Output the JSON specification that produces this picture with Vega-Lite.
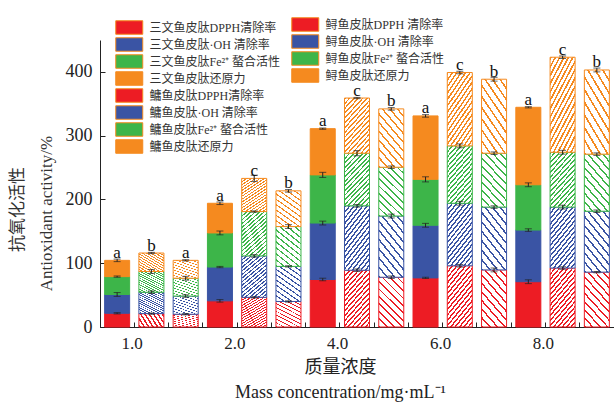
{
  "$schema": "https://vega.github.io/schema/vega-lite/v6.json",
  "width": 514,
  "height": 287,
  "autosize": {"type": "none"},
  "padding": {"left": 100, "top": 40, "right": 0, "bottom": 75},
  "background": "white",
  "title": {"text": "抗氧化活性", "orient": "left", "anchor": "middle", "frame": "group", "offset": 10, "dx": -26, "font": "Liberation Serif, Noto Sans CJK SC", "fontSize": 17, "fontWeight": "normal", "color": "#333"},
  "config": {
    "view": {"stroke": null},
    "axis": {"grid": false, "domainColor": "#222", "tickColor": "#222", "labelColor": "#222", "titleColor": "#333", "titleFontWeight": "normal"}
  },
  "data": {"values": [
    {"bar": "1.0 三文鱼", "fish": "三文鱼", "k": 0, "series": "三文鱼皮肽DPPH清除率", "value": 21.5, "err": 1},
    {"bar": "1.0 三文鱼", "fish": "三文鱼", "k": 1, "series": "三文鱼皮肽·OH 清除率", "value": 29.5, "err": 3},
    {"bar": "1.0 三文鱼", "fish": "三文鱼", "k": 2, "series": "三文鱼皮肽Fe²⁺ 螯合活性", "value": 28, "err": 1},
    {"bar": "1.0 三文鱼", "fish": "三文鱼", "k": 3, "series": "三文鱼皮肽还原力", "value": 25.5, "err": 2, "sig": "a"},
    {"bar": "1.0 鲟鱼", "fish": "鲟鱼", "k": 0, "series": "鲟鱼皮肽DPPH 清除率", "value": 21, "err": 1},
    {"bar": "1.0 鲟鱼", "fish": "鲟鱼", "k": 1, "series": "鲟鱼皮肽·OH 清除率", "value": 33.5, "err": 2},
    {"bar": "1.0 鲟鱼", "fish": "鲟鱼", "k": 2, "series": "鲟鱼皮肽Fe²⁺ 螯合活性", "value": 32.5, "err": 3},
    {"bar": "1.0 鲟鱼", "fish": "鲟鱼", "k": 3, "series": "鲟鱼皮肽还原力", "value": 29, "err": 1, "sig": "b"},
    {"bar": "1.0 鳙鱼", "fish": "鳙鱼", "k": 0, "series": "鳙鱼皮肽DPPH清除率", "value": 20, "err": 1},
    {"bar": "1.0 鳙鱼", "fish": "鳙鱼", "k": 1, "series": "鳙鱼皮肽·OH 清除率", "value": 28.5, "err": 2},
    {"bar": "1.0 鳙鱼", "fish": "鳙鱼", "k": 2, "series": "鳙鱼皮肽Fe²⁺ 螯合活性", "value": 28, "err": 3},
    {"bar": "1.0 鳙鱼", "fish": "鳙鱼", "k": 3, "series": "鳙鱼皮肽还原力", "value": 28, "err": 1, "sig": "a"},
    {"bar": "2.0 三文鱼", "fish": "三文鱼", "k": 0, "series": "三文鱼皮肽DPPH清除率", "value": 41, "err": 2},
    {"bar": "2.0 三文鱼", "fish": "三文鱼", "k": 1, "series": "三文鱼皮肽·OH 清除率", "value": 53, "err": 1},
    {"bar": "2.0 三文鱼", "fish": "三文鱼", "k": 2, "series": "三文鱼皮肽Fe²⁺ 螯合活性", "value": 53.5, "err": 3},
    {"bar": "2.0 三文鱼", "fish": "三文鱼", "k": 3, "series": "三文鱼皮肽还原力", "value": 46.5, "err": 2, "sig": "a"},
    {"bar": "2.0 鲟鱼", "fish": "鲟鱼", "k": 0, "series": "鲟鱼皮肽DPPH 清除率", "value": 46.5, "err": 1},
    {"bar": "2.0 鲟鱼", "fish": "鲟鱼", "k": 1, "series": "鲟鱼皮肽·OH 清除率", "value": 65, "err": 2},
    {"bar": "2.0 鲟鱼", "fish": "鲟鱼", "k": 2, "series": "鲟鱼皮肽Fe²⁺ 螯合活性", "value": 69.5, "err": 1},
    {"bar": "2.0 鲟鱼", "fish": "鲟鱼", "k": 3, "series": "鲟鱼皮肽还原力", "value": 52, "err": 5, "sig": "c"},
    {"bar": "2.0 鳙鱼", "fish": "鳙鱼", "k": 0, "series": "鳙鱼皮肽DPPH清除率", "value": 40, "err": 1},
    {"bar": "2.0 鳙鱼", "fish": "鳙鱼", "k": 1, "series": "鳙鱼皮肽·OH 清除率", "value": 55, "err": 1},
    {"bar": "2.0 鳙鱼", "fish": "鳙鱼", "k": 2, "series": "鳙鱼皮肽Fe²⁺ 螯合活性", "value": 62.5, "err": 3},
    {"bar": "2.0 鳙鱼", "fish": "鳙鱼", "k": 3, "series": "鳙鱼皮肽还原力", "value": 56, "err": 2, "sig": "b"},
    {"bar": "4.0 三文鱼", "fish": "三文鱼", "k": 0, "series": "三文鱼皮肽DPPH清除率", "value": 74.5, "err": 2},
    {"bar": "4.0 三文鱼", "fish": "三文鱼", "k": 1, "series": "三文鱼皮肽·OH 清除率", "value": 88.5, "err": 3},
    {"bar": "4.0 三文鱼", "fish": "三文鱼", "k": 2, "series": "三文鱼皮肽Fe²⁺ 螯合活性", "value": 75.5, "err": 4},
    {"bar": "4.0 三文鱼", "fish": "三文鱼", "k": 3, "series": "三文鱼皮肽还原力", "value": 72.5, "err": 1, "sig": "a"},
    {"bar": "4.0 鲟鱼", "fish": "鲟鱼", "k": 0, "series": "鲟鱼皮肽DPPH 清除率", "value": 89, "err": 2},
    {"bar": "4.0 鲟鱼", "fish": "鲟鱼", "k": 1, "series": "鲟鱼皮肽·OH 清除率", "value": 101, "err": 2},
    {"bar": "4.0 鲟鱼", "fish": "鲟鱼", "k": 2, "series": "鲟鱼皮肽Fe²⁺ 螯合活性", "value": 82.5, "err": 4},
    {"bar": "4.0 鲟鱼", "fish": "鲟鱼", "k": 3, "series": "鲟鱼皮肽还原力", "value": 86.5, "err": 1, "sig": "c"},
    {"bar": "4.0 鳙鱼", "fish": "鳙鱼", "k": 0, "series": "鳙鱼皮肽DPPH清除率", "value": 78, "err": 2},
    {"bar": "4.0 鳙鱼", "fish": "鳙鱼", "k": 1, "series": "鳙鱼皮肽·OH 清除率", "value": 96, "err": 3},
    {"bar": "4.0 鳙鱼", "fish": "鳙鱼", "k": 2, "series": "鳙鱼皮肽Fe²⁺ 螯合活性", "value": 76.5, "err": 2},
    {"bar": "4.0 鳙鱼", "fish": "鳙鱼", "k": 3, "series": "鳙鱼皮肽还原力", "value": 91.5, "err": 2, "sig": "b"},
    {"bar": "6.0 三文鱼", "fish": "三文鱼", "k": 0, "series": "三文鱼皮肽DPPH清除率", "value": 77, "err": 1},
    {"bar": "6.0 三文鱼", "fish": "三文鱼", "k": 1, "series": "三文鱼皮肽·OH 清除率", "value": 82.5, "err": 3},
    {"bar": "6.0 三文鱼", "fish": "三文鱼", "k": 2, "series": "三文鱼皮肽Fe²⁺ 螯合活性", "value": 72, "err": 4},
    {"bar": "6.0 三文鱼", "fish": "三文鱼", "k": 3, "series": "三文鱼皮肽还原力", "value": 99.5, "err": 2, "sig": "a"},
    {"bar": "6.0 鲟鱼", "fish": "鲟鱼", "k": 0, "series": "鲟鱼皮肽DPPH 清除率", "value": 96, "err": 2},
    {"bar": "6.0 鲟鱼", "fish": "鲟鱼", "k": 1, "series": "鲟鱼皮肽·OH 清除率", "value": 98, "err": 3},
    {"bar": "6.0 鲟鱼", "fish": "鲟鱼", "k": 2, "series": "鲟鱼皮肽Fe²⁺ 螯合活性", "value": 90, "err": 3},
    {"bar": "6.0 鲟鱼", "fish": "鲟鱼", "k": 3, "series": "鲟鱼皮肽还原力", "value": 115, "err": 2, "sig": "c"},
    {"bar": "6.0 鳙鱼", "fish": "鳙鱼", "k": 0, "series": "鳙鱼皮肽DPPH清除率", "value": 89.5, "err": 3},
    {"bar": "6.0 鳙鱼", "fish": "鳙鱼", "k": 1, "series": "鳙鱼皮肽·OH 清除率", "value": 98.5, "err": 2},
    {"bar": "6.0 鳙鱼", "fish": "鳙鱼", "k": 2, "series": "鳙鱼皮肽Fe²⁺ 螯合活性", "value": 84.5, "err": 2},
    {"bar": "6.0 鳙鱼", "fish": "鳙鱼", "k": 3, "series": "鳙鱼皮肽还原力", "value": 116, "err": 3, "sig": "b"},
    {"bar": "8.0 三文鱼", "fish": "三文鱼", "k": 0, "series": "三文鱼皮肽DPPH清除率", "value": 71, "err": 3},
    {"bar": "8.0 三文鱼", "fish": "三文鱼", "k": 1, "series": "三文鱼皮肽·OH 清除率", "value": 81, "err": 2},
    {"bar": "8.0 三文鱼", "fish": "三文鱼", "k": 2, "series": "三文鱼皮肽Fe²⁺ 螯合活性", "value": 71, "err": 3},
    {"bar": "8.0 三文鱼", "fish": "三文鱼", "k": 3, "series": "三文鱼皮肽还原力", "value": 121.5, "err": 1, "sig": "a"},
    {"bar": "8.0 鲟鱼", "fish": "鲟鱼", "k": 0, "series": "鲟鱼皮肽DPPH 清除率", "value": 92.5, "err": 2},
    {"bar": "8.0 鲟鱼", "fish": "鲟鱼", "k": 1, "series": "鲟鱼皮肽·OH 清除率", "value": 95.5, "err": 3},
    {"bar": "8.0 鲟鱼", "fish": "鲟鱼", "k": 2, "series": "鲟鱼皮肽Fe²⁺ 螯合活性", "value": 86, "err": 3},
    {"bar": "8.0 鲟鱼", "fish": "鲟鱼", "k": 3, "series": "鲟鱼皮肽还原力", "value": 149, "err": 2, "sig": "c"},
    {"bar": "8.0 鳙鱼", "fish": "鳙鱼", "k": 0, "series": "鳙鱼皮肽DPPH清除率", "value": 86, "err": 1},
    {"bar": "8.0 鳙鱼", "fish": "鳙鱼", "k": 1, "series": "鳙鱼皮肽·OH 清除率", "value": 95.5, "err": 2},
    {"bar": "8.0 鳙鱼", "fish": "鳙鱼", "k": 2, "series": "鳙鱼皮肽Fe²⁺ 螯合活性", "value": 89.5, "err": 2},
    {"bar": "8.0 鳙鱼", "fish": "鳙鱼", "k": 3, "series": "鳙鱼皮肽还原力", "value": 132, "err": 3, "sig": "b"}
  ]},
  "transform": [
    {"stack": "value", "groupby": ["bar"], "sort": [{"field": "k", "order": "ascending"}], "as": ["v0", "v1"]}
  ],
  "layer": [
    {
      "transform": [{"filter": {"not": {"field": "fish", "equal": "鲟鱼"}}}],
      "mark": {"type": "bar", "width": {"band": 0.73}, "strokeWidth": 1},
      "encoding": {
        "x": {"field": "bar", "type": "nominal",
          "scale": {"domain": ["1.0 三文鱼","1.0 鲟鱼","1.0 鳙鱼","2.0 三文鱼","2.0 鲟鱼","2.0 鳙鱼","4.0 三文鱼","4.0 鲟鱼","4.0 鳙鱼","6.0 三文鱼","6.0 鲟鱼","6.0 鳙鱼","8.0 三文鱼","8.0 鲟鱼","8.0 鳙鱼"], "paddingInner": 0, "paddingOuter": 0},
          "axis": {"bandPosition": 0, "tickSize": -5, "labelAngle": 0, "labelExpr": "indexof(datum.value, '三文鱼') >= 0 ? slice(datum.value, 0, 3) : ''", "labelOffset": 15, "labelPadding": 13, "labelFont": "Liberation Serif", "labelFontSize": 17,
            "title": ["质量浓度", "Mass  concentration/mg·mL⁻¹"], "titleFont": "Liberation Serif, Noto Sans CJK SC", "titleFontSize": 18, "titleLineHeight": 25, "titleX": 240, "titleY": 31, "titleBaseline": "top", "titleAlign": "center", "titleColor": "#222"}},
        "y": {"field": "v0", "type": "quantitative", "scale": {"domain": [0, 450]}, "title": "Antioxidant  activity/%",
          "axis": {"values": [0, 50, 100, 150, 200, 250, 300, 350, 400, 450], "labelExpr": "datum.value % 100 == 0 ? datum.label : ''", "tickSize": -5, "labelPadding": 13, "labelFont": "Liberation Serif", "labelFontSize": 18,
            "title": "Antioxidant  activity/%", "titleFont": "Liberation Serif", "titleFontSize": 17, "titleX": -45, "titleY": 173, "titleAngle": -90, "titleAlign": "center", "titleBaseline": "bottom", "titleColor": "#333"}},
        "y2": {"field": "v1"},
        "stroke": {"condition": [{"test": "datum.k === 0", "value": "#ED1C24"}, {"test": "datum.k === 1", "value": "#3A54A4"}, {"test": "datum.k === 2", "value": "#3DB549"}], "value": "#F58A1F"},
        "fill": {"field": "series", "type": "nominal",
          "condition": [
            {"test": "datum.fish === '鳙鱼' && datum.k === 0", "value": {"gradient": "linear", "x1": 0, "y1": 1, "x2": 1, "y2": -1, "stops": [{"offset":0,"color":"#ED1C24"},{"offset":0.015,"color":"#ED1C24"},{"offset":0.015,"color":"#fff"},{"offset":0.06,"color":"#fff"},{"offset":0.06,"color":"#ED1C24"},{"offset":0.075,"color":"#ED1C24"},{"offset":0.075,"color":"#fff"},{"offset":0.12,"color":"#fff"},{"offset":0.12,"color":"#ED1C24"},{"offset":0.135,"color":"#ED1C24"},{"offset":0.135,"color":"#fff"},{"offset":0.18,"color":"#fff"},{"offset":0.18,"color":"#ED1C24"},{"offset":0.195,"color":"#ED1C24"},{"offset":0.195,"color":"#fff"},{"offset":0.24,"color":"#fff"},{"offset":0.24,"color":"#ED1C24"},{"offset":0.255,"color":"#ED1C24"},{"offset":0.255,"color":"#fff"},{"offset":0.3,"color":"#fff"},{"offset":0.3,"color":"#ED1C24"},{"offset":0.315,"color":"#ED1C24"},{"offset":0.315,"color":"#fff"},{"offset":0.36,"color":"#fff"},{"offset":0.36,"color":"#ED1C24"},{"offset":0.375,"color":"#ED1C24"},{"offset":0.375,"color":"#fff"},{"offset":0.42,"color":"#fff"},{"offset":0.42,"color":"#ED1C24"},{"offset":0.435,"color":"#ED1C24"},{"offset":0.435,"color":"#fff"},{"offset":0.48,"color":"#fff"},{"offset":0.48,"color":"#ED1C24"},{"offset":0.495,"color":"#ED1C24"},{"offset":0.495,"color":"#fff"},{"offset":0.54,"color":"#fff"},{"offset":0.54,"color":"#ED1C24"},{"offset":0.555,"color":"#ED1C24"},{"offset":0.555,"color":"#fff"},{"offset":0.6,"color":"#fff"},{"offset":0.6,"color":"#ED1C24"},{"offset":0.615,"color":"#ED1C24"},{"offset":0.615,"color":"#fff"},{"offset":1,"color":"#fff"}]}},
            {"test": "datum.fish === '鳙鱼' && datum.k === 1", "value": {"gradient": "linear", "x1": 0, "y1": 1, "x2": 1, "y2": -1, "stops": [{"offset":0,"color":"#3A54A4"},{"offset":0.015,"color":"#3A54A4"},{"offset":0.015,"color":"#fff"},{"offset":0.06,"color":"#fff"},{"offset":0.06,"color":"#3A54A4"},{"offset":0.075,"color":"#3A54A4"},{"offset":0.075,"color":"#fff"},{"offset":0.12,"color":"#fff"},{"offset":0.12,"color":"#3A54A4"},{"offset":0.135,"color":"#3A54A4"},{"offset":0.135,"color":"#fff"},{"offset":0.18,"color":"#fff"},{"offset":0.18,"color":"#3A54A4"},{"offset":0.195,"color":"#3A54A4"},{"offset":0.195,"color":"#fff"},{"offset":0.24,"color":"#fff"},{"offset":0.24,"color":"#3A54A4"},{"offset":0.255,"color":"#3A54A4"},{"offset":0.255,"color":"#fff"},{"offset":0.3,"color":"#fff"},{"offset":0.3,"color":"#3A54A4"},{"offset":0.315,"color":"#3A54A4"},{"offset":0.315,"color":"#fff"},{"offset":0.36,"color":"#fff"},{"offset":0.36,"color":"#3A54A4"},{"offset":0.375,"color":"#3A54A4"},{"offset":0.375,"color":"#fff"},{"offset":0.42,"color":"#fff"},{"offset":0.42,"color":"#3A54A4"},{"offset":0.435,"color":"#3A54A4"},{"offset":0.435,"color":"#fff"},{"offset":0.48,"color":"#fff"},{"offset":0.48,"color":"#3A54A4"},{"offset":0.495,"color":"#3A54A4"},{"offset":0.495,"color":"#fff"},{"offset":0.54,"color":"#fff"},{"offset":0.54,"color":"#3A54A4"},{"offset":0.555,"color":"#3A54A4"},{"offset":0.555,"color":"#fff"},{"offset":0.6,"color":"#fff"},{"offset":0.6,"color":"#3A54A4"},{"offset":0.615,"color":"#3A54A4"},{"offset":0.615,"color":"#fff"},{"offset":1,"color":"#fff"}]}},
            {"test": "datum.fish === '鳙鱼' && datum.k === 2", "value": {"gradient": "linear", "x1": 0, "y1": 1, "x2": 1, "y2": -1, "stops": [{"offset":0,"color":"#3DB549"},{"offset":0.015,"color":"#3DB549"},{"offset":0.015,"color":"#fff"},{"offset":0.06,"color":"#fff"},{"offset":0.06,"color":"#3DB549"},{"offset":0.075,"color":"#3DB549"},{"offset":0.075,"color":"#fff"},{"offset":0.12,"color":"#fff"},{"offset":0.12,"color":"#3DB549"},{"offset":0.135,"color":"#3DB549"},{"offset":0.135,"color":"#fff"},{"offset":0.18,"color":"#fff"},{"offset":0.18,"color":"#3DB549"},{"offset":0.195,"color":"#3DB549"},{"offset":0.195,"color":"#fff"},{"offset":0.24,"color":"#fff"},{"offset":0.24,"color":"#3DB549"},{"offset":0.255,"color":"#3DB549"},{"offset":0.255,"color":"#fff"},{"offset":0.3,"color":"#fff"},{"offset":0.3,"color":"#3DB549"},{"offset":0.315,"color":"#3DB549"},{"offset":0.315,"color":"#fff"},{"offset":0.36,"color":"#fff"},{"offset":0.36,"color":"#3DB549"},{"offset":0.375,"color":"#3DB549"},{"offset":0.375,"color":"#fff"},{"offset":0.42,"color":"#fff"},{"offset":0.42,"color":"#3DB549"},{"offset":0.435,"color":"#3DB549"},{"offset":0.435,"color":"#fff"},{"offset":0.48,"color":"#fff"},{"offset":0.48,"color":"#3DB549"},{"offset":0.495,"color":"#3DB549"},{"offset":0.495,"color":"#fff"},{"offset":0.54,"color":"#fff"},{"offset":0.54,"color":"#3DB549"},{"offset":0.555,"color":"#3DB549"},{"offset":0.555,"color":"#fff"},{"offset":0.6,"color":"#fff"},{"offset":0.6,"color":"#3DB549"},{"offset":0.615,"color":"#3DB549"},{"offset":0.615,"color":"#fff"},{"offset":1,"color":"#fff"}]}},
            {"test": "datum.fish === '鳙鱼' && datum.k === 3", "value": {"gradient": "linear", "x1": 0, "y1": 1, "x2": 1, "y2": -1, "stops": [{"offset":0,"color":"#F58A1F"},{"offset":0.015,"color":"#F58A1F"},{"offset":0.015,"color":"#fff"},{"offset":0.06,"color":"#fff"},{"offset":0.06,"color":"#F58A1F"},{"offset":0.075,"color":"#F58A1F"},{"offset":0.075,"color":"#fff"},{"offset":0.12,"color":"#fff"},{"offset":0.12,"color":"#F58A1F"},{"offset":0.135,"color":"#F58A1F"},{"offset":0.135,"color":"#fff"},{"offset":0.18,"color":"#fff"},{"offset":0.18,"color":"#F58A1F"},{"offset":0.195,"color":"#F58A1F"},{"offset":0.195,"color":"#fff"},{"offset":0.24,"color":"#fff"},{"offset":0.24,"color":"#F58A1F"},{"offset":0.255,"color":"#F58A1F"},{"offset":0.255,"color":"#fff"},{"offset":0.3,"color":"#fff"},{"offset":0.3,"color":"#F58A1F"},{"offset":0.315,"color":"#F58A1F"},{"offset":0.315,"color":"#fff"},{"offset":0.36,"color":"#fff"},{"offset":0.36,"color":"#F58A1F"},{"offset":0.375,"color":"#F58A1F"},{"offset":0.375,"color":"#fff"},{"offset":0.42,"color":"#fff"},{"offset":0.42,"color":"#F58A1F"},{"offset":0.435,"color":"#F58A1F"},{"offset":0.435,"color":"#fff"},{"offset":0.48,"color":"#fff"},{"offset":0.48,"color":"#F58A1F"},{"offset":0.495,"color":"#F58A1F"},{"offset":0.495,"color":"#fff"},{"offset":0.54,"color":"#fff"},{"offset":0.54,"color":"#F58A1F"},{"offset":0.555,"color":"#F58A1F"},{"offset":0.555,"color":"#fff"},{"offset":0.6,"color":"#fff"},{"offset":0.6,"color":"#F58A1F"},{"offset":0.615,"color":"#F58A1F"},{"offset":0.615,"color":"#fff"},{"offset":1,"color":"#fff"}]}}
          ],
          "scale": {"domain": ["三文鱼皮肽DPPH清除率", "三文鱼皮肽·OH 清除率", "三文鱼皮肽Fe²⁺ 螯合活性", "三文鱼皮肽还原力", "鳙鱼皮肽DPPH清除率", "鳙鱼皮肽·OH 清除率", "鳙鱼皮肽Fe²⁺ 螯合活性", "鳙鱼皮肽还原力"],
            "range": ["#ED1C24", "#3A54A4", "#3DB549", "#F58A1F", "#ED1C24", "#3A54A4", "#3DB549", "#F58A1F"]},
          "legend": {"orient": "none", "legendX": 21.75, "legendY": -20, "title": null, "padding": 0, "symbolType": "M-2,-1H2V1H-2Z", "symbolSize": 182.25, "symbolStrokeWidth": 1, "labelOffset": 12.75, "rowPadding": -3.9, "labelFont": "Liberation Serif, Noto Sans CJK SC", "labelFontSize": 12, "labelColor": "#333", "labelLimit": 300,
            "encode": {"symbols": {
              "strokeWidth": {"value": 1},
              "stroke": {"condition": [{"test": "indexof(datum.value, 'DPPH') >= 0", "value": "#ED1C24"}, {"test": "indexof(datum.value, 'OH') >= 0", "value": "#3A54A4"}, {"test": "indexof(datum.value, 'Fe') >= 0", "value": "#3DB549"}], "value": "#F58A1F"},
              "fill": {"condition": [
                {"test": "datum.value === '鳙鱼皮肽DPPH清除率'", "value": {"gradient": "linear", "x1": 0, "y1": 1, "x2": 1.2, "y2": 0.4, "stops": [{"offset":0,"color":"#ED1C24"},{"offset":0.045,"color":"#ED1C24"},{"offset":0.045,"color":"#fff"},{"offset":0.18,"color":"#fff"},{"offset":0.18,"color":"#ED1C24"},{"offset":0.225,"color":"#ED1C24"},{"offset":0.225,"color":"#fff"},{"offset":0.36,"color":"#fff"},{"offset":0.36,"color":"#ED1C24"},{"offset":0.405,"color":"#ED1C24"},{"offset":0.405,"color":"#fff"},{"offset":0.54,"color":"#fff"},{"offset":0.54,"color":"#ED1C24"},{"offset":0.585,"color":"#ED1C24"},{"offset":0.585,"color":"#fff"},{"offset":0.72,"color":"#fff"},{"offset":0.72,"color":"#ED1C24"},{"offset":0.765,"color":"#ED1C24"},{"offset":0.765,"color":"#fff"},{"offset":0.9,"color":"#fff"},{"offset":0.9,"color":"#ED1C24"},{"offset":0.945,"color":"#ED1C24"},{"offset":0.945,"color":"#fff"},{"offset":1,"color":"#fff"}]}},
                {"test": "datum.value === '鳙鱼皮肽·OH 清除率'", "value": {"gradient": "linear", "x1": 0, "y1": 1, "x2": 1.2, "y2": 0.4, "stops": [{"offset":0,"color":"#3A54A4"},{"offset":0.045,"color":"#3A54A4"},{"offset":0.045,"color":"#fff"},{"offset":0.18,"color":"#fff"},{"offset":0.18,"color":"#3A54A4"},{"offset":0.225,"color":"#3A54A4"},{"offset":0.225,"color":"#fff"},{"offset":0.36,"color":"#fff"},{"offset":0.36,"color":"#3A54A4"},{"offset":0.405,"color":"#3A54A4"},{"offset":0.405,"color":"#fff"},{"offset":0.54,"color":"#fff"},{"offset":0.54,"color":"#3A54A4"},{"offset":0.585,"color":"#3A54A4"},{"offset":0.585,"color":"#fff"},{"offset":0.72,"color":"#fff"},{"offset":0.72,"color":"#3A54A4"},{"offset":0.765,"color":"#3A54A4"},{"offset":0.765,"color":"#fff"},{"offset":0.9,"color":"#fff"},{"offset":0.9,"color":"#3A54A4"},{"offset":0.945,"color":"#3A54A4"},{"offset":0.945,"color":"#fff"},{"offset":1,"color":"#fff"}]}},
                {"test": "datum.value === '鳙鱼皮肽Fe²⁺ 螯合活性'", "value": {"gradient": "linear", "x1": 0, "y1": 1, "x2": 1.2, "y2": 0.4, "stops": [{"offset":0,"color":"#3DB549"},{"offset":0.045,"color":"#3DB549"},{"offset":0.045,"color":"#fff"},{"offset":0.18,"color":"#fff"},{"offset":0.18,"color":"#3DB549"},{"offset":0.225,"color":"#3DB549"},{"offset":0.225,"color":"#fff"},{"offset":0.36,"color":"#fff"},{"offset":0.36,"color":"#3DB549"},{"offset":0.405,"color":"#3DB549"},{"offset":0.405,"color":"#fff"},{"offset":0.54,"color":"#fff"},{"offset":0.54,"color":"#3DB549"},{"offset":0.585,"color":"#3DB549"},{"offset":0.585,"color":"#fff"},{"offset":0.72,"color":"#fff"},{"offset":0.72,"color":"#3DB549"},{"offset":0.765,"color":"#3DB549"},{"offset":0.765,"color":"#fff"},{"offset":0.9,"color":"#fff"},{"offset":0.9,"color":"#3DB549"},{"offset":0.945,"color":"#3DB549"},{"offset":0.945,"color":"#fff"},{"offset":1,"color":"#fff"}]}},
                {"test": "datum.value === '鳙鱼皮肽还原力'", "value": {"gradient": "linear", "x1": 0, "y1": 1, "x2": 1.2, "y2": 0.4, "stops": [{"offset":0,"color":"#F58A1F"},{"offset":0.045,"color":"#F58A1F"},{"offset":0.045,"color":"#fff"},{"offset":0.18,"color":"#fff"},{"offset":0.18,"color":"#F58A1F"},{"offset":0.225,"color":"#F58A1F"},{"offset":0.225,"color":"#fff"},{"offset":0.36,"color":"#fff"},{"offset":0.36,"color":"#F58A1F"},{"offset":0.405,"color":"#F58A1F"},{"offset":0.405,"color":"#fff"},{"offset":0.54,"color":"#fff"},{"offset":0.54,"color":"#F58A1F"},{"offset":0.585,"color":"#F58A1F"},{"offset":0.585,"color":"#fff"},{"offset":0.72,"color":"#fff"},{"offset":0.72,"color":"#F58A1F"},{"offset":0.765,"color":"#F58A1F"},{"offset":0.765,"color":"#fff"},{"offset":0.9,"color":"#fff"},{"offset":0.9,"color":"#F58A1F"},{"offset":0.945,"color":"#F58A1F"},{"offset":0.945,"color":"#fff"},{"offset":1,"color":"#fff"}]}},
                {"test": "indexof(datum.value, 'DPPH') >= 0", "value": "#ED1C24"},
                {"test": "indexof(datum.value, 'OH') >= 0", "value": "#3A54A4"},
                {"test": "indexof(datum.value, 'Fe') >= 0", "value": "#3DB549"}
              ], "value": "#F58A1F"}
            }}}}
      }
    },
    {
      "transform": [{"filter": {"field": "fish", "equal": "鲟鱼"}}],
      "mark": {"type": "bar", "width": {"band": 0.73}, "strokeWidth": 1},
      "encoding": {
        "x": {"field": "bar", "type": "nominal",
          "scale": {"domain": ["1.0 三文鱼","1.0 鲟鱼","1.0 鳙鱼","2.0 三文鱼","2.0 鲟鱼","2.0 鳙鱼","4.0 三文鱼","4.0 鲟鱼","4.0 鳙鱼","6.0 三文鱼","6.0 鲟鱼","6.0 鳙鱼","8.0 三文鱼","8.0 鲟鱼","8.0 鳙鱼"], "paddingInner": 0, "paddingOuter": 0}},
        "y": {"field": "v0", "type": "quantitative", "scale": {"domain": [0, 450]}, "title": "Antioxidant  activity/%"},
        "y2": {"field": "v1"},
        "stroke": {"condition": [{"test": "datum.k === 0", "value": "#ED1C24"}, {"test": "datum.k === 1", "value": "#3A54A4"}, {"test": "datum.k === 2", "value": "#3DB549"}], "value": "#F58A1F"},
        "fill": {"field": "series", "type": "nominal",
          "condition": [
            {"test": "datum.k === 0", "value": {"gradient": "linear", "x1": 0, "y1": 0, "x2": 1, "y2": 2, "stops": [{"offset":0,"color":"#ED1C24"},{"offset":0.014,"color":"#ED1C24"},{"offset":0.014,"color":"#fff"},{"offset":0.035,"color":"#fff"},{"offset":0.035,"color":"#ED1C24"},{"offset":0.049,"color":"#ED1C24"},{"offset":0.049,"color":"#fff"},{"offset":0.07,"color":"#fff"},{"offset":0.07,"color":"#ED1C24"},{"offset":0.084,"color":"#ED1C24"},{"offset":0.084,"color":"#fff"},{"offset":0.105,"color":"#fff"},{"offset":0.105,"color":"#ED1C24"},{"offset":0.119,"color":"#ED1C24"},{"offset":0.119,"color":"#fff"},{"offset":0.14,"color":"#fff"},{"offset":0.14,"color":"#ED1C24"},{"offset":0.154,"color":"#ED1C24"},{"offset":0.154,"color":"#fff"},{"offset":0.175,"color":"#fff"},{"offset":0.175,"color":"#ED1C24"},{"offset":0.189,"color":"#ED1C24"},{"offset":0.189,"color":"#fff"},{"offset":0.21,"color":"#fff"},{"offset":0.21,"color":"#ED1C24"},{"offset":0.224,"color":"#ED1C24"},{"offset":0.224,"color":"#fff"},{"offset":0.245,"color":"#fff"},{"offset":0.245,"color":"#ED1C24"},{"offset":0.259,"color":"#ED1C24"},{"offset":0.259,"color":"#fff"},{"offset":0.28,"color":"#fff"},{"offset":0.28,"color":"#ED1C24"},{"offset":0.294,"color":"#ED1C24"},{"offset":0.294,"color":"#fff"},{"offset":0.315,"color":"#fff"},{"offset":0.315,"color":"#ED1C24"},{"offset":0.329,"color":"#ED1C24"},{"offset":0.329,"color":"#fff"},{"offset":0.35,"color":"#fff"},{"offset":0.35,"color":"#ED1C24"},{"offset":0.364,"color":"#ED1C24"},{"offset":0.364,"color":"#fff"},{"offset":0.385,"color":"#fff"},{"offset":0.385,"color":"#ED1C24"},{"offset":0.399,"color":"#ED1C24"},{"offset":0.399,"color":"#fff"},{"offset":0.42,"color":"#fff"},{"offset":0.42,"color":"#ED1C24"},{"offset":0.434,"color":"#ED1C24"},{"offset":0.434,"color":"#fff"},{"offset":0.455,"color":"#fff"},{"offset":0.455,"color":"#ED1C24"},{"offset":0.469,"color":"#ED1C24"},{"offset":0.469,"color":"#fff"},{"offset":0.49,"color":"#fff"},{"offset":0.49,"color":"#ED1C24"},{"offset":0.504,"color":"#ED1C24"},{"offset":0.504,"color":"#fff"},{"offset":0.525,"color":"#fff"},{"offset":0.525,"color":"#ED1C24"},{"offset":0.539,"color":"#ED1C24"},{"offset":0.539,"color":"#fff"},{"offset":0.56,"color":"#fff"},{"offset":0.56,"color":"#ED1C24"},{"offset":0.574,"color":"#ED1C24"},{"offset":0.574,"color":"#fff"},{"offset":0.595,"color":"#fff"},{"offset":0.595,"color":"#ED1C24"},{"offset":0.609,"color":"#ED1C24"},{"offset":0.609,"color":"#fff"},{"offset":1,"color":"#fff"}]}},
            {"test": "datum.k === 1", "value": {"gradient": "linear", "x1": 0, "y1": 0, "x2": 1, "y2": 2, "stops": [{"offset":0,"color":"#3A54A4"},{"offset":0.014,"color":"#3A54A4"},{"offset":0.014,"color":"#fff"},{"offset":0.035,"color":"#fff"},{"offset":0.035,"color":"#3A54A4"},{"offset":0.049,"color":"#3A54A4"},{"offset":0.049,"color":"#fff"},{"offset":0.07,"color":"#fff"},{"offset":0.07,"color":"#3A54A4"},{"offset":0.084,"color":"#3A54A4"},{"offset":0.084,"color":"#fff"},{"offset":0.105,"color":"#fff"},{"offset":0.105,"color":"#3A54A4"},{"offset":0.119,"color":"#3A54A4"},{"offset":0.119,"color":"#fff"},{"offset":0.14,"color":"#fff"},{"offset":0.14,"color":"#3A54A4"},{"offset":0.154,"color":"#3A54A4"},{"offset":0.154,"color":"#fff"},{"offset":0.175,"color":"#fff"},{"offset":0.175,"color":"#3A54A4"},{"offset":0.189,"color":"#3A54A4"},{"offset":0.189,"color":"#fff"},{"offset":0.21,"color":"#fff"},{"offset":0.21,"color":"#3A54A4"},{"offset":0.224,"color":"#3A54A4"},{"offset":0.224,"color":"#fff"},{"offset":0.245,"color":"#fff"},{"offset":0.245,"color":"#3A54A4"},{"offset":0.259,"color":"#3A54A4"},{"offset":0.259,"color":"#fff"},{"offset":0.28,"color":"#fff"},{"offset":0.28,"color":"#3A54A4"},{"offset":0.294,"color":"#3A54A4"},{"offset":0.294,"color":"#fff"},{"offset":0.315,"color":"#fff"},{"offset":0.315,"color":"#3A54A4"},{"offset":0.329,"color":"#3A54A4"},{"offset":0.329,"color":"#fff"},{"offset":0.35,"color":"#fff"},{"offset":0.35,"color":"#3A54A4"},{"offset":0.364,"color":"#3A54A4"},{"offset":0.364,"color":"#fff"},{"offset":0.385,"color":"#fff"},{"offset":0.385,"color":"#3A54A4"},{"offset":0.399,"color":"#3A54A4"},{"offset":0.399,"color":"#fff"},{"offset":0.42,"color":"#fff"},{"offset":0.42,"color":"#3A54A4"},{"offset":0.434,"color":"#3A54A4"},{"offset":0.434,"color":"#fff"},{"offset":0.455,"color":"#fff"},{"offset":0.455,"color":"#3A54A4"},{"offset":0.469,"color":"#3A54A4"},{"offset":0.469,"color":"#fff"},{"offset":0.49,"color":"#fff"},{"offset":0.49,"color":"#3A54A4"},{"offset":0.504,"color":"#3A54A4"},{"offset":0.504,"color":"#fff"},{"offset":0.525,"color":"#fff"},{"offset":0.525,"color":"#3A54A4"},{"offset":0.539,"color":"#3A54A4"},{"offset":0.539,"color":"#fff"},{"offset":0.56,"color":"#fff"},{"offset":0.56,"color":"#3A54A4"},{"offset":0.574,"color":"#3A54A4"},{"offset":0.574,"color":"#fff"},{"offset":0.595,"color":"#fff"},{"offset":0.595,"color":"#3A54A4"},{"offset":0.609,"color":"#3A54A4"},{"offset":0.609,"color":"#fff"},{"offset":1,"color":"#fff"}]}},
            {"test": "datum.k === 2", "value": {"gradient": "linear", "x1": 0, "y1": 0, "x2": 1, "y2": 2, "stops": [{"offset":0,"color":"#3DB549"},{"offset":0.014,"color":"#3DB549"},{"offset":0.014,"color":"#fff"},{"offset":0.035,"color":"#fff"},{"offset":0.035,"color":"#3DB549"},{"offset":0.049,"color":"#3DB549"},{"offset":0.049,"color":"#fff"},{"offset":0.07,"color":"#fff"},{"offset":0.07,"color":"#3DB549"},{"offset":0.084,"color":"#3DB549"},{"offset":0.084,"color":"#fff"},{"offset":0.105,"color":"#fff"},{"offset":0.105,"color":"#3DB549"},{"offset":0.119,"color":"#3DB549"},{"offset":0.119,"color":"#fff"},{"offset":0.14,"color":"#fff"},{"offset":0.14,"color":"#3DB549"},{"offset":0.154,"color":"#3DB549"},{"offset":0.154,"color":"#fff"},{"offset":0.175,"color":"#fff"},{"offset":0.175,"color":"#3DB549"},{"offset":0.189,"color":"#3DB549"},{"offset":0.189,"color":"#fff"},{"offset":0.21,"color":"#fff"},{"offset":0.21,"color":"#3DB549"},{"offset":0.224,"color":"#3DB549"},{"offset":0.224,"color":"#fff"},{"offset":0.245,"color":"#fff"},{"offset":0.245,"color":"#3DB549"},{"offset":0.259,"color":"#3DB549"},{"offset":0.259,"color":"#fff"},{"offset":0.28,"color":"#fff"},{"offset":0.28,"color":"#3DB549"},{"offset":0.294,"color":"#3DB549"},{"offset":0.294,"color":"#fff"},{"offset":0.315,"color":"#fff"},{"offset":0.315,"color":"#3DB549"},{"offset":0.329,"color":"#3DB549"},{"offset":0.329,"color":"#fff"},{"offset":0.35,"color":"#fff"},{"offset":0.35,"color":"#3DB549"},{"offset":0.364,"color":"#3DB549"},{"offset":0.364,"color":"#fff"},{"offset":0.385,"color":"#fff"},{"offset":0.385,"color":"#3DB549"},{"offset":0.399,"color":"#3DB549"},{"offset":0.399,"color":"#fff"},{"offset":0.42,"color":"#fff"},{"offset":0.42,"color":"#3DB549"},{"offset":0.434,"color":"#3DB549"},{"offset":0.434,"color":"#fff"},{"offset":0.455,"color":"#fff"},{"offset":0.455,"color":"#3DB549"},{"offset":0.469,"color":"#3DB549"},{"offset":0.469,"color":"#fff"},{"offset":0.49,"color":"#fff"},{"offset":0.49,"color":"#3DB549"},{"offset":0.504,"color":"#3DB549"},{"offset":0.504,"color":"#fff"},{"offset":0.525,"color":"#fff"},{"offset":0.525,"color":"#3DB549"},{"offset":0.539,"color":"#3DB549"},{"offset":0.539,"color":"#fff"},{"offset":0.56,"color":"#fff"},{"offset":0.56,"color":"#3DB549"},{"offset":0.574,"color":"#3DB549"},{"offset":0.574,"color":"#fff"},{"offset":0.595,"color":"#fff"},{"offset":0.595,"color":"#3DB549"},{"offset":0.609,"color":"#3DB549"},{"offset":0.609,"color":"#fff"},{"offset":1,"color":"#fff"}]}},
            {"test": "datum.k === 3", "value": {"gradient": "linear", "x1": 0, "y1": 0, "x2": 1, "y2": 2, "stops": [{"offset":0,"color":"#F58A1F"},{"offset":0.014,"color":"#F58A1F"},{"offset":0.014,"color":"#fff"},{"offset":0.035,"color":"#fff"},{"offset":0.035,"color":"#F58A1F"},{"offset":0.049,"color":"#F58A1F"},{"offset":0.049,"color":"#fff"},{"offset":0.07,"color":"#fff"},{"offset":0.07,"color":"#F58A1F"},{"offset":0.084,"color":"#F58A1F"},{"offset":0.084,"color":"#fff"},{"offset":0.105,"color":"#fff"},{"offset":0.105,"color":"#F58A1F"},{"offset":0.119,"color":"#F58A1F"},{"offset":0.119,"color":"#fff"},{"offset":0.14,"color":"#fff"},{"offset":0.14,"color":"#F58A1F"},{"offset":0.154,"color":"#F58A1F"},{"offset":0.154,"color":"#fff"},{"offset":0.175,"color":"#fff"},{"offset":0.175,"color":"#F58A1F"},{"offset":0.189,"color":"#F58A1F"},{"offset":0.189,"color":"#fff"},{"offset":0.21,"color":"#fff"},{"offset":0.21,"color":"#F58A1F"},{"offset":0.224,"color":"#F58A1F"},{"offset":0.224,"color":"#fff"},{"offset":0.245,"color":"#fff"},{"offset":0.245,"color":"#F58A1F"},{"offset":0.259,"color":"#F58A1F"},{"offset":0.259,"color":"#fff"},{"offset":0.28,"color":"#fff"},{"offset":0.28,"color":"#F58A1F"},{"offset":0.294,"color":"#F58A1F"},{"offset":0.294,"color":"#fff"},{"offset":0.315,"color":"#fff"},{"offset":0.315,"color":"#F58A1F"},{"offset":0.329,"color":"#F58A1F"},{"offset":0.329,"color":"#fff"},{"offset":0.35,"color":"#fff"},{"offset":0.35,"color":"#F58A1F"},{"offset":0.364,"color":"#F58A1F"},{"offset":0.364,"color":"#fff"},{"offset":0.385,"color":"#fff"},{"offset":0.385,"color":"#F58A1F"},{"offset":0.399,"color":"#F58A1F"},{"offset":0.399,"color":"#fff"},{"offset":0.42,"color":"#fff"},{"offset":0.42,"color":"#F58A1F"},{"offset":0.434,"color":"#F58A1F"},{"offset":0.434,"color":"#fff"},{"offset":0.455,"color":"#fff"},{"offset":0.455,"color":"#F58A1F"},{"offset":0.469,"color":"#F58A1F"},{"offset":0.469,"color":"#fff"},{"offset":0.49,"color":"#fff"},{"offset":0.49,"color":"#F58A1F"},{"offset":0.504,"color":"#F58A1F"},{"offset":0.504,"color":"#fff"},{"offset":0.525,"color":"#fff"},{"offset":0.525,"color":"#F58A1F"},{"offset":0.539,"color":"#F58A1F"},{"offset":0.539,"color":"#fff"},{"offset":0.56,"color":"#fff"},{"offset":0.56,"color":"#F58A1F"},{"offset":0.574,"color":"#F58A1F"},{"offset":0.574,"color":"#fff"},{"offset":0.595,"color":"#fff"},{"offset":0.595,"color":"#F58A1F"},{"offset":0.609,"color":"#F58A1F"},{"offset":0.609,"color":"#fff"},{"offset":1,"color":"#fff"}]}}
          ],
          "scale": {"domain": ["鲟鱼皮肽DPPH 清除率", "鲟鱼皮肽·OH 清除率", "鲟鱼皮肽Fe²⁺ 螯合活性", "鲟鱼皮肽还原力"],
            "range": ["#ED1C24", "#3A54A4", "#3DB549", "#F58A1F"]},
          "legend": {"orient": "none", "legendX": 197.75, "legendY": -23, "title": null, "padding": 0, "symbolType": "M-2,-1H2V1H-2Z", "symbolSize": 182.25, "symbolStrokeWidth": 1, "labelOffset": 12.75, "rowPadding": -3.9, "labelFont": "Liberation Serif, Noto Sans CJK SC", "labelFontSize": 12, "labelColor": "#333", "labelLimit": 300,
            "encode": {"symbols": {
              "strokeWidth": {"value": 1},
              "stroke": {"condition": [{"test": "indexof(datum.value, 'DPPH') >= 0", "value": "#ED1C24"}, {"test": "indexof(datum.value, 'OH') >= 0", "value": "#3A54A4"}, {"test": "indexof(datum.value, 'Fe') >= 0", "value": "#3DB549"}], "value": "#F58A1F"},
              "fill": {"condition": [
                {"test": "indexof(datum.value, 'DPPH') >= 0", "value": {"gradient": "linear", "x1": 0, "y1": 0, "x2": 1.2, "y2": 0.6, "stops": [{"offset":0,"color":"#ED1C24"},{"offset":0.04,"color":"#ED1C24"},{"offset":0.04,"color":"#fff"},{"offset":0.1,"color":"#fff"},{"offset":0.1,"color":"#ED1C24"},{"offset":0.14,"color":"#ED1C24"},{"offset":0.14,"color":"#fff"},{"offset":0.2,"color":"#fff"},{"offset":0.2,"color":"#ED1C24"},{"offset":0.24,"color":"#ED1C24"},{"offset":0.24,"color":"#fff"},{"offset":0.3,"color":"#fff"},{"offset":0.3,"color":"#ED1C24"},{"offset":0.34,"color":"#ED1C24"},{"offset":0.34,"color":"#fff"},{"offset":0.4,"color":"#fff"},{"offset":0.4,"color":"#ED1C24"},{"offset":0.44,"color":"#ED1C24"},{"offset":0.44,"color":"#fff"},{"offset":0.5,"color":"#fff"},{"offset":0.5,"color":"#ED1C24"},{"offset":0.54,"color":"#ED1C24"},{"offset":0.54,"color":"#fff"},{"offset":0.6,"color":"#fff"},{"offset":0.6,"color":"#ED1C24"},{"offset":0.64,"color":"#ED1C24"},{"offset":0.64,"color":"#fff"},{"offset":0.7,"color":"#fff"},{"offset":0.7,"color":"#ED1C24"},{"offset":0.74,"color":"#ED1C24"},{"offset":0.74,"color":"#fff"},{"offset":0.8,"color":"#fff"},{"offset":0.8,"color":"#ED1C24"},{"offset":0.84,"color":"#ED1C24"},{"offset":0.84,"color":"#fff"},{"offset":0.9,"color":"#fff"},{"offset":0.9,"color":"#ED1C24"},{"offset":0.94,"color":"#ED1C24"},{"offset":0.94,"color":"#fff"},{"offset":1,"color":"#fff"}]}},
                {"test": "indexof(datum.value, 'OH') >= 0", "value": {"gradient": "linear", "x1": 0, "y1": 0, "x2": 1.2, "y2": 0.6, "stops": [{"offset":0,"color":"#3A54A4"},{"offset":0.04,"color":"#3A54A4"},{"offset":0.04,"color":"#fff"},{"offset":0.1,"color":"#fff"},{"offset":0.1,"color":"#3A54A4"},{"offset":0.14,"color":"#3A54A4"},{"offset":0.14,"color":"#fff"},{"offset":0.2,"color":"#fff"},{"offset":0.2,"color":"#3A54A4"},{"offset":0.24,"color":"#3A54A4"},{"offset":0.24,"color":"#fff"},{"offset":0.3,"color":"#fff"},{"offset":0.3,"color":"#3A54A4"},{"offset":0.34,"color":"#3A54A4"},{"offset":0.34,"color":"#fff"},{"offset":0.4,"color":"#fff"},{"offset":0.4,"color":"#3A54A4"},{"offset":0.44,"color":"#3A54A4"},{"offset":0.44,"color":"#fff"},{"offset":0.5,"color":"#fff"},{"offset":0.5,"color":"#3A54A4"},{"offset":0.54,"color":"#3A54A4"},{"offset":0.54,"color":"#fff"},{"offset":0.6,"color":"#fff"},{"offset":0.6,"color":"#3A54A4"},{"offset":0.64,"color":"#3A54A4"},{"offset":0.64,"color":"#fff"},{"offset":0.7,"color":"#fff"},{"offset":0.7,"color":"#3A54A4"},{"offset":0.74,"color":"#3A54A4"},{"offset":0.74,"color":"#fff"},{"offset":0.8,"color":"#fff"},{"offset":0.8,"color":"#3A54A4"},{"offset":0.84,"color":"#3A54A4"},{"offset":0.84,"color":"#fff"},{"offset":0.9,"color":"#fff"},{"offset":0.9,"color":"#3A54A4"},{"offset":0.94,"color":"#3A54A4"},{"offset":0.94,"color":"#fff"},{"offset":1,"color":"#fff"}]}},
                {"test": "indexof(datum.value, 'Fe') >= 0", "value": {"gradient": "linear", "x1": 0, "y1": 0, "x2": 1.2, "y2": 0.6, "stops": [{"offset":0,"color":"#3DB549"},{"offset":0.04,"color":"#3DB549"},{"offset":0.04,"color":"#fff"},{"offset":0.1,"color":"#fff"},{"offset":0.1,"color":"#3DB549"},{"offset":0.14,"color":"#3DB549"},{"offset":0.14,"color":"#fff"},{"offset":0.2,"color":"#fff"},{"offset":0.2,"color":"#3DB549"},{"offset":0.24,"color":"#3DB549"},{"offset":0.24,"color":"#fff"},{"offset":0.3,"color":"#fff"},{"offset":0.3,"color":"#3DB549"},{"offset":0.34,"color":"#3DB549"},{"offset":0.34,"color":"#fff"},{"offset":0.4,"color":"#fff"},{"offset":0.4,"color":"#3DB549"},{"offset":0.44,"color":"#3DB549"},{"offset":0.44,"color":"#fff"},{"offset":0.5,"color":"#fff"},{"offset":0.5,"color":"#3DB549"},{"offset":0.54,"color":"#3DB549"},{"offset":0.54,"color":"#fff"},{"offset":0.6,"color":"#fff"},{"offset":0.6,"color":"#3DB549"},{"offset":0.64,"color":"#3DB549"},{"offset":0.64,"color":"#fff"},{"offset":0.7,"color":"#fff"},{"offset":0.7,"color":"#3DB549"},{"offset":0.74,"color":"#3DB549"},{"offset":0.74,"color":"#fff"},{"offset":0.8,"color":"#fff"},{"offset":0.8,"color":"#3DB549"},{"offset":0.84,"color":"#3DB549"},{"offset":0.84,"color":"#fff"},{"offset":0.9,"color":"#fff"},{"offset":0.9,"color":"#3DB549"},{"offset":0.94,"color":"#3DB549"},{"offset":0.94,"color":"#fff"},{"offset":1,"color":"#fff"}]}}
              ], "value": {"gradient": "linear", "x1": 0, "y1": 0, "x2": 1.2, "y2": 0.6, "stops": [{"offset":0,"color":"#F58A1F"},{"offset":0.04,"color":"#F58A1F"},{"offset":0.04,"color":"#fff"},{"offset":0.1,"color":"#fff"},{"offset":0.1,"color":"#F58A1F"},{"offset":0.14,"color":"#F58A1F"},{"offset":0.14,"color":"#fff"},{"offset":0.2,"color":"#fff"},{"offset":0.2,"color":"#F58A1F"},{"offset":0.24,"color":"#F58A1F"},{"offset":0.24,"color":"#fff"},{"offset":0.3,"color":"#fff"},{"offset":0.3,"color":"#F58A1F"},{"offset":0.34,"color":"#F58A1F"},{"offset":0.34,"color":"#fff"},{"offset":0.4,"color":"#fff"},{"offset":0.4,"color":"#F58A1F"},{"offset":0.44,"color":"#F58A1F"},{"offset":0.44,"color":"#fff"},{"offset":0.5,"color":"#fff"},{"offset":0.5,"color":"#F58A1F"},{"offset":0.54,"color":"#F58A1F"},{"offset":0.54,"color":"#fff"},{"offset":0.6,"color":"#fff"},{"offset":0.6,"color":"#F58A1F"},{"offset":0.64,"color":"#F58A1F"},{"offset":0.64,"color":"#fff"},{"offset":0.7,"color":"#fff"},{"offset":0.7,"color":"#F58A1F"},{"offset":0.74,"color":"#F58A1F"},{"offset":0.74,"color":"#fff"},{"offset":0.8,"color":"#fff"},{"offset":0.8,"color":"#F58A1F"},{"offset":0.84,"color":"#F58A1F"},{"offset":0.84,"color":"#fff"},{"offset":0.9,"color":"#fff"},{"offset":0.9,"color":"#F58A1F"},{"offset":0.94,"color":"#F58A1F"},{"offset":0.94,"color":"#fff"},{"offset":1,"color":"#fff"}]}}
            }}}}
      }
    },
    {
      "mark": {"type": "errorbar", "ticks": {"size": 7}, "thickness": 1, "color": "#222"},
      "encoding": {
        "x": {"field": "bar", "type": "nominal",
          "scale": {"domain": ["1.0 三文鱼","1.0 鲟鱼","1.0 鳙鱼","2.0 三文鱼","2.0 鲟鱼","2.0 鳙鱼","4.0 三文鱼","4.0 鲟鱼","4.0 鳙鱼","6.0 三文鱼","6.0 鲟鱼","6.0 鳙鱼","8.0 三文鱼","8.0 鲟鱼","8.0 鳙鱼"], "paddingInner": 0, "paddingOuter": 0}},
        "y": {"field": "v1", "type": "quantitative", "scale": {"domain": [0, 450]}, "title": "Antioxidant  activity/%"},
        "yError": {"field": "err"}
      }
    },
    {
      "transform": [{"filter": {"field": "k", "equal": 3}}],
      "mark": {"type": "text", "baseline": "alphabetic", "dy": -2.5, "fontSize": 17, "font": "Liberation Serif", "color": "#111"},
      "encoding": {
        "x": {"field": "bar", "type": "nominal",
          "scale": {"domain": ["1.0 三文鱼","1.0 鲟鱼","1.0 鳙鱼","2.0 三文鱼","2.0 鲟鱼","2.0 鳙鱼","4.0 三文鱼","4.0 鲟鱼","4.0 鳙鱼","6.0 三文鱼","6.0 鲟鱼","6.0 鳙鱼","8.0 三文鱼","8.0 鲟鱼","8.0 鳙鱼"], "paddingInner": 0, "paddingOuter": 0}},
        "y": {"field": "v1", "type": "quantitative", "scale": {"domain": [0, 450]}, "title": "Antioxidant  activity/%"},
        "text": {"field": "sig"}
      }
    }
  ],
  "resolve": {"scale": {"fill": "independent"}, "legend": {"fill": "independent"}}
}
